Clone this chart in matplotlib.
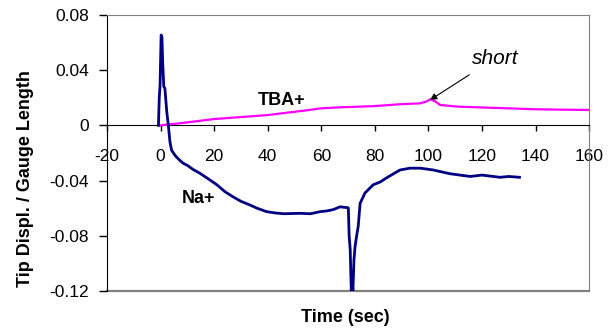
import matplotlib.pyplot as plt

tba_t = [0, 2, 7, 20, 40, 54, 60, 67, 80, 89, 97, 99.5, 100.6, 102.5, 104.3, 111, 123, 140, 150, 160]
tba_y = [0.0, 0.0005, 0.0015, 0.0046, 0.0075, 0.0108, 0.0124, 0.0131, 0.014, 0.0153, 0.016, 0.0175,
         0.0189, 0.0175, 0.0148, 0.0136, 0.0128, 0.0117, 0.0114, 0.0112]

na_t = [-0.8, -0.5, -0.2, 0.2, 0.5, 0.8, 1.2, 1.6, 2.3, 2.9, 3.5, 4.1, 5.5, 7, 8.5, 10, 12.2, 14.7,
        18, 21, 24, 27, 30, 33.4, 36, 39.6, 43, 46, 52, 56, 59.6, 62, 64.5, 67, 70.1, 70.4, 70.8,
        71.2, 71.5, 71.8, 72.2, 72.6, 73.2, 73.8, 74.5, 76.3, 79.4, 82, 84.4, 87, 89.4, 93.1, 97,
        101.8, 108, 115.6, 120, 126.7, 130, 134]
na_y = [0.0, 0.02, 0.029, 0.0655, 0.064, 0.045, 0.028, 0.027, 0.01, 0.0, -0.012, -0.018, -0.022,
        -0.025, -0.0275, -0.029, -0.032, -0.0347, -0.039, -0.043, -0.048, -0.0517, -0.055, -0.0577,
        -0.06, -0.0625, -0.0635, -0.064, -0.0637, -0.064, -0.0625, -0.062, -0.061, -0.059, -0.0597,
        -0.08, -0.09, -0.12, -0.11, -0.12, -0.0975, -0.088, -0.08, -0.073, -0.0565, -0.049, -0.043,
        -0.041, -0.038, -0.035, -0.0323, -0.031, -0.031, -0.0323, -0.035, -0.037, -0.036, -0.0376,
        -0.037, -0.0376]

xticks = list(range(-20, 161, 20))
yticks = [-0.12, -0.08, -0.04, 0, 0.04, 0.08]
ytick_labels = ['-0.12', '-0.08', '-0.04', '0', '0.04', '0.08']

plt.rcParams['font.family'] = ['Liberation Sans', 'DejaVu Sans']
plt.rcParams['axes.unicode_minus'] = False

fig = plt.figure(figsize=(6.13, 3.31), dpi=100)
ax = fig.add_axes([0.1746, 0.1208, 0.961 - 0.1746, 0.9547 - 0.1208])

ax.plot(tba_t, tba_y, color='#ff00ff', lw=1.6, zorder=3)
ax.plot(na_t, na_y, color='#000080', lw=2.0, zorder=4)

ax.set_xlim(-20, 160)
ax.set_ylim(-0.12, 0.08)
ax.set_xticks(xticks)
ax.set_xticklabels([str(t) for t in xticks])
ax.set_yticks(yticks)
ax.set_yticklabels(ytick_labels)

ax.spines['bottom'].set_position(('data', 0))
ax.spines['bottom'].set_color('black')
ax.spines['left'].set_color('black')
for s in ['top', 'right']:
    ax.spines[s].set_color('#808080')
ax.axhline(-0.12, color='#808080', lw=1.6, clip_on=False, zorder=1)

ax.tick_params(axis='x', direction='out', length=4, width=1, pad=13, labelsize=12.5, colors='black')
ax.tick_params(axis='y', direction='out', length=6, width=1, pad=7, labelsize=12.5)

ax.text(45, 0.0184, 'TBA+', fontsize=13, fontweight='bold', ha='center', va='center')
ax.text(14.3, -0.0533, 'Na+', fontsize=13, fontweight='bold', ha='center', va='center')
ax.annotate('short', xy=(100.6, 0.0184), xytext=(125, 0.0488), fontsize=15, fontstyle='italic',
            ha='center', va='center',
            arrowprops=dict(arrowstyle='-|>', color='black', lw=0.8, mutation_scale=10,
                            shrinkA=6, shrinkB=0))

fig.text(0.041, 0.46, 'Tip Displ. / Gauge Length', rotation=90, fontsize=13, fontweight='bold',
         ha='center', va='center')
fig.text(0.564, 0.042, 'Time (sec)', fontsize=13, fontweight='bold', ha='center', va='center')

fig.savefig('out.png', dpi=100)
